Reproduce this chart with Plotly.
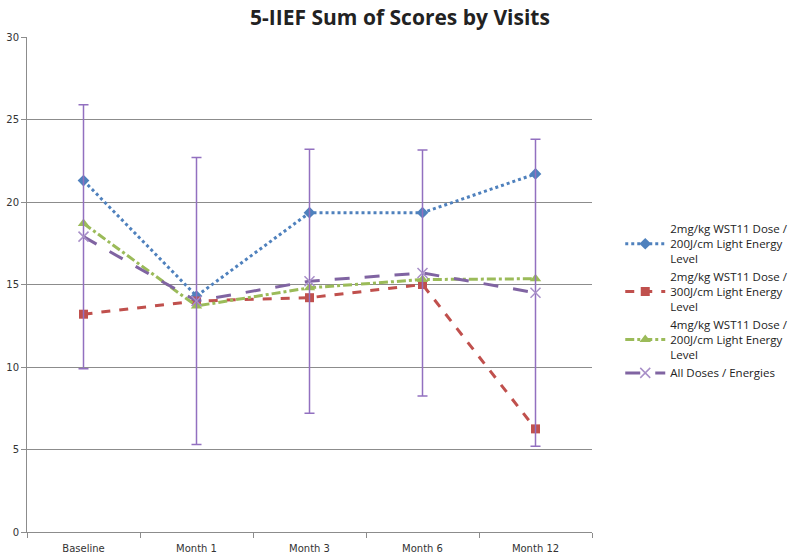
import plotly.graph_objects as go

visits = ["Baseline", "Month 1", "Month 3", "Month 6", "Month 12"]
s1_name = "2mg/kg WST11 Dose /<br>200J/cm Light Energy<br>Level"
s2_name = "2mg/kg WST11 Dose /<br>300J/cm Light Energy<br>Level"
s3_name = "4mg/kg WST11 Dose /<br>200J/cm Light Energy<br>Level"
s4_name = "All Doses / Energies"
s1 = [21.3, 14.3, 19.35, 19.35, 21.7]
s2 = [13.2, 14.0, 14.2, 15.0, 6.25]
s3 = [18.7, 13.7, 14.8, 15.3, 15.35]
s4 = [17.9, 14.0, 15.2, 15.7, 14.5]
s4_err = [8.0, 8.7, 8.0, 7.45, 9.3]

fig = go.Figure()
fig.add_trace(go.Scatter(x=visits, y=s1, name=s1_name, mode="lines+markers",
                         line=dict(color="#4F81BD", width=3, dash="dot"),
                         marker=dict(symbol="diamond", size=9, color="#4F81BD")))
fig.add_trace(go.Scatter(x=visits, y=s2, name=s2_name, mode="lines+markers",
                         line=dict(color="#C0504D", width=3, dash="dash"),
                         marker=dict(symbol="square", size=9, color="#C0504D")))
fig.add_trace(go.Scatter(x=visits, y=s3, name=s3_name, mode="lines+markers",
                         line=dict(color="#9BBB59", width=3, dash="dashdot"),
                         marker=dict(symbol="triangle-up", size=10, color="#9BBB59")))
fig.add_trace(go.Scatter(x=visits, y=s4, name=s4_name, mode="lines+markers",
                         line=dict(color="#8064A2", width=3, dash="longdash"),
                         marker=dict(symbol="x-thin", size=10,
                                     line=dict(color="#A88FC8", width=1.5)),
                         error_y=dict(type="data", array=s4_err, visible=True,
                                      color="#9270C0", thickness=1.5, width=5)))

fig.update_layout(
    width=800, height=557,
    margin=dict(l=27, r=208, t=37, b=25, autoexpand=False),
    paper_bgcolor="white", plot_bgcolor="white",
    title=dict(text="<b>5-IIEF Sum of Scores by Visits</b>", x=0.5, xanchor="center",
               y=0.969, yanchor="middle",
               font=dict(family="Open Sans", size=21, color="#222222")),
    font=dict(family="DejaVu Sans", size=10, color="#333333"),
    showlegend=True,
    legend=dict(x=1.05, xanchor="left", y=0.466, yanchor="middle",
                font=dict(family="Open Sans", size=11.5, color="#222222"),
                tracegroupgap=0, itemwidth=40, bgcolor="rgba(0,0,0,0)"),
    xaxis=dict(type="category", range=[-0.5, 4.5], showgrid=False, automargin=False,
               showline=True, linecolor="#8C8C8C", linewidth=1,
               ticks="outside", tickson="boundaries", ticklen=5, tickcolor="#8C8C8C",
               ticklabelstandoff=7,
               tickfont=dict(family="DejaVu Sans", size=10, color="#333333"),
               zeroline=False),
    yaxis=dict(range=[0, 30], dtick=5, showgrid=True, gridcolor="#8C8C8C", gridwidth=1,
               showline=True, linecolor="#8C8C8C", linewidth=1, automargin=False,
               ticks="outside", ticklen=5, tickcolor="#8C8C8C",
               tickfont=dict(family="DejaVu Sans", size=10, color="#333333"),
               zeroline=False),
)

fig.write_html("out.html", config={"displayModeBar": False},
               post_script="document.body.style.margin='0';document.body.style.overflow='hidden';")
